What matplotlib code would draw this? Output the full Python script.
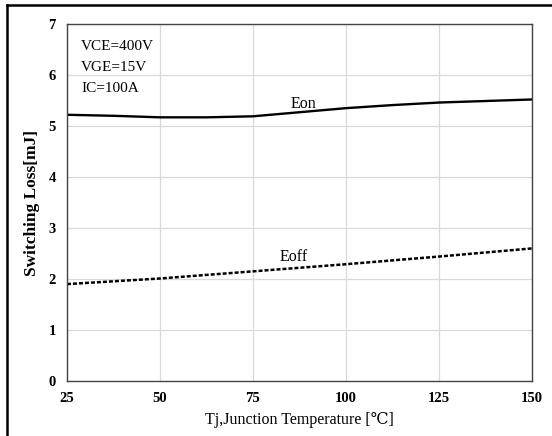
import numpy as np
import matplotlib.pyplot as plt
from matplotlib.lines import Line2D

# Junction temperature (C)
tj_on = [25, 37.5, 50, 62.5, 75, 87.5, 100, 112.5, 125, 137.5, 150]
tj_off = [25, 50, 75, 100, 125, 150]

# Switching losses (mJ)
eon = [5.22, 5.20, 5.17, 5.17, 5.19, 5.27, 5.35, 5.41, 5.46, 5.49, 5.52]
eoff = [1.90, 2.01, 2.15, 2.29, 2.44, 2.60]

x_ticks = [25, 50, 75, 100, 125, 150]
y_ticks = [0, 1, 2, 3, 4, 5, 6, 7]

conditions = ["VCE=400V", "VGE=15V", "IC=100A"]
cond_y = [6.49, 6.07, 5.67]

plt.rcParams['font.family'] = ['Liberation Serif', 'DejaVu Serif']

fig = plt.figure(figsize=(5.52, 4.36), dpi=100)
ax = fig.add_axes([67 / 552, 1 - 381 / 436, 465 / 552, 357 / 436])

ax.plot(tj_on, eon, color='black', lw=1.7, solid_capstyle='butt')
ax.plot(tj_off, eoff, color='black', lw=1.8, ls=(0, (1.6, 0.8)))

ax.set_xlim(25, 150)
ax.set_ylim(0, 7)
ax.set_xticks(x_ticks)
ax.set_yticks(y_ticks)
ax.tick_params(length=0, labelsize=10.5, pad=8)
for lab in ax.get_xticklabels() + ax.get_yticklabels():
    lab.set_fontweight('bold')

ax.grid(color='#d9d9d9', lw=0.9)
ax.set_axisbelow(True)
for s in ax.spines.values():
    s.set_color('#444444')
    s.set_linewidth(1.0)

ax.set_xlabel("Tj,Junction Temperature [℃]", fontsize=11.5, labelpad=5)
ax.set_ylabel("Switching Loss[mJ]", fontsize=12.5, fontweight='bold', labelpad=6)

for txt, y in zip(conditions, cond_y):
    ax.text(28.8, y, txt, fontsize=11, ha='left', va='baseline')
ax.text(88.6, 5.35, "Eon", fontsize=11.5, ha='center', va='baseline')
ax.text(86.0, 2.35, "Eoff", fontsize=11.5, ha='center', va='baseline')

# outer frame of the datasheet figure
fig.add_artist(Line2D([7 / 552, 1], [1 - 5 / 436, 1 - 5 / 436], color='black', lw=1.8))
fig.add_artist(Line2D([7 / 552, 7 / 552], [0, 1 - 5 / 436], color='black', lw=1.8))

fig.savefig("out.png", dpi=100)
